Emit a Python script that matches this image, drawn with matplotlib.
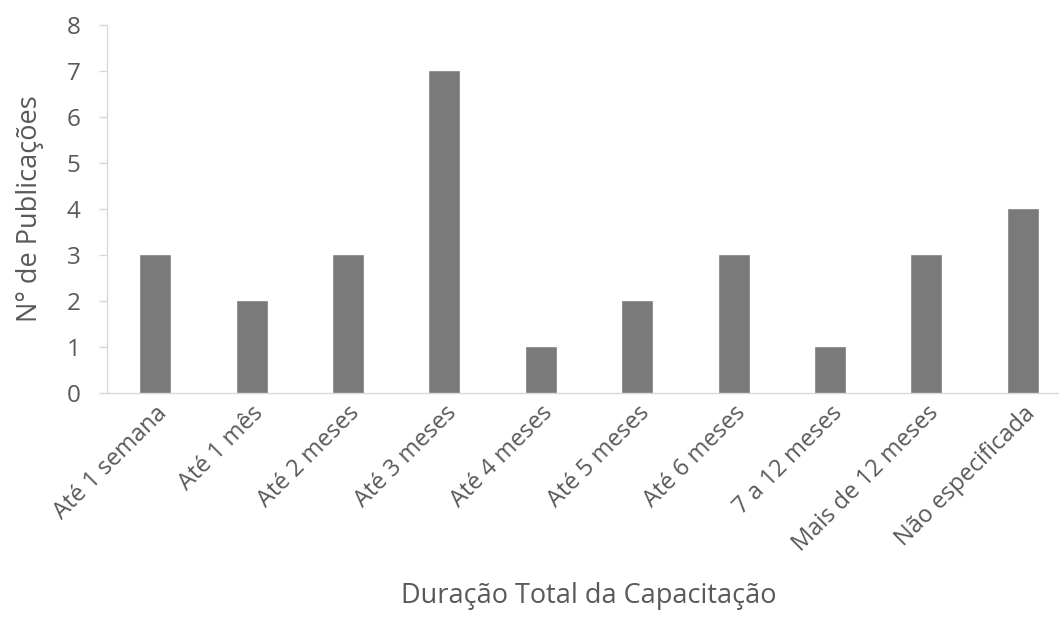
import matplotlib.pyplot as plt

plt.rcParams["font.family"] = ["Open Sans", "DejaVu Sans"]

categories = [
    "Até 1 semana",
    "Até 1 mês",
    "Até 2 meses",
    "Até 3 meses",
    "Até 4 meses",
    "Até 5 meses",
    "Até 6 meses",
    "7 a 12 meses",
    "Mais de 12 meses",
    "Não especificada",
]
counts = [3, 2, 3, 7, 1, 2, 3, 1, 3, 4]

text_color = "#595959"
axis_color = "#d9d9d9"

fig = plt.figure(figsize=(10.59, 6.25), dpi=100)
ax = fig.add_axes([107 / 1059, 1 - 393 / 625, 964 / 1059, 368 / 625])

x = range(len(categories))
ax.bar(x, counts, width=0.31, color="#7a7a7a", edgecolor="#8c8c8c", linewidth=0.6, zorder=2)

ax.set_xlim(-0.5, len(categories) - 0.5)
ax.set_ylim(0, 8)
ax.set_yticks(range(0, 9))

ax.set_xticks(list(x))
ax.set_xticklabels(categories, rotation=45, ha="right", rotation_mode="anchor")

for side in ["top", "right"]:
    ax.spines[side].set_visible(False)
ax.spines["left"].set_color(axis_color)
ax.spines["bottom"].set_color(axis_color)
ax.spines["left"].set_linewidth(1.0)
ax.spines["bottom"].set_linewidth(1.0)

ax.tick_params(axis="y", colors=axis_color, labelcolor=text_color, labelsize=17.5,
               length=6, width=1.0, pad=13)
ax.tick_params(axis="x", length=0, labelcolor=text_color, labelsize=17, pad=6)

ax.set_ylabel("N° de Publicações", fontsize=19.5, color=text_color, labelpad=16)
ax.set_xlabel("Duração Total da Capacitação", fontsize=19.5, color=text_color, labelpad=18)

plt.savefig("out.png", dpi=100)
plt.close()
